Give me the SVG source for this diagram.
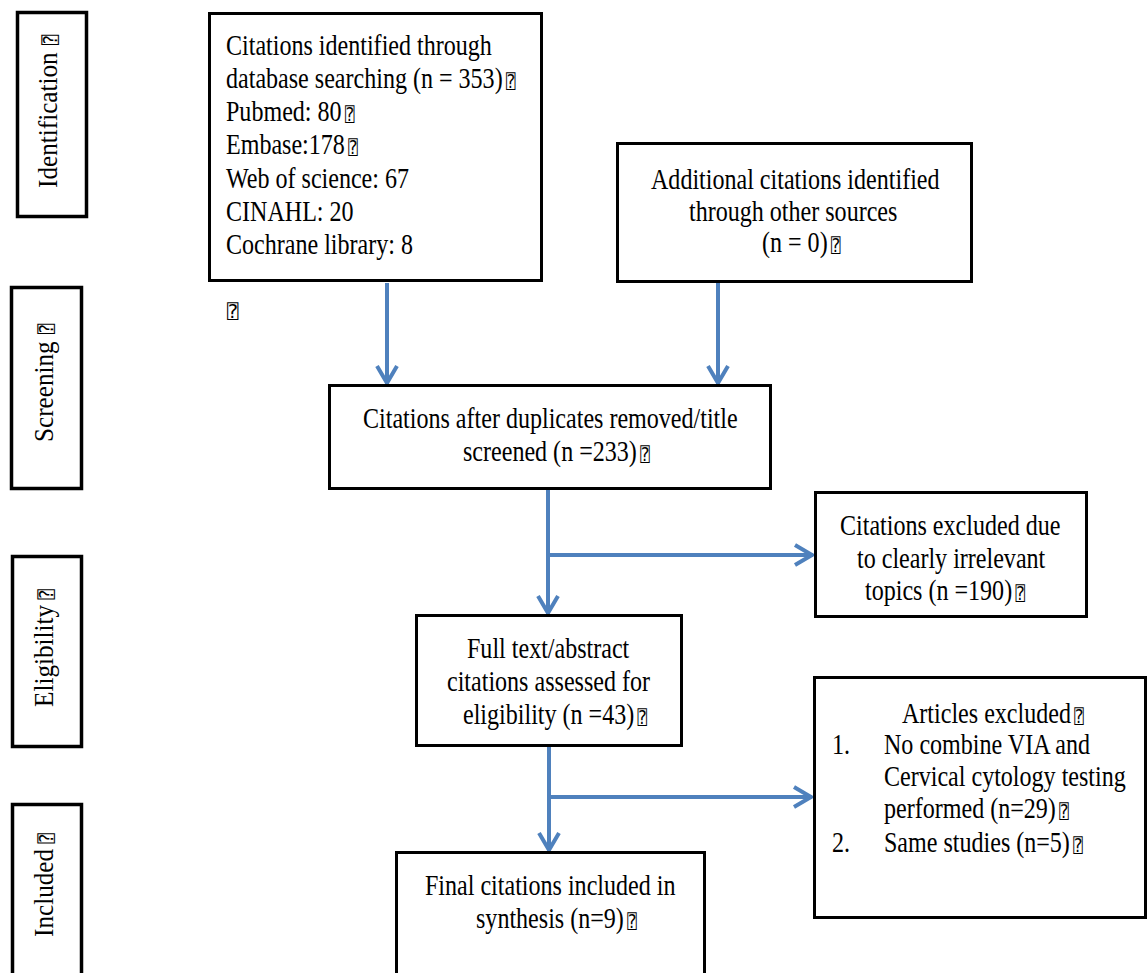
<svg xmlns="http://www.w3.org/2000/svg" width="1148" height="973" viewBox="0 0 1148 973">
<defs>
<style>
.bx { fill: #ffffff; stroke: #000000; stroke-width: 3; }
.st { fill: #ffffff; stroke: #000000; stroke-width: 3.5; }
.t { font-family: "Liberation Serif", "Times New Roman", serif; font-size: 29px; fill: #000000; }
.r { font-family: "Liberation Serif", "Times New Roman", serif; font-size: 28px; fill: #000000; }
.q { font-family: "DejaVu Sans Mono", "DejaVu Sans", monospace; font-size: 19px; }
.ln { fill: none; stroke: #4f81bd; stroke-width: 4; }
</style>
<marker id="ah" markerUnits="userSpaceOnUse" markerWidth="28" markerHeight="28" viewBox="-22 -14 28 28" refX="1" refY="0" orient="auto">
<path d="M-17,-10 L0,0 L-17,10" fill="none" stroke="#4f81bd" stroke-width="4"/>
</marker>
</defs>
<rect x="0" y="0" width="1148" height="973" fill="#ffffff"/>

<g id="stage-identification">
<rect class="st" x="17.5" y="12.5" width="69" height="204"/>
<text class="r" transform="translate(57,188) rotate(-90) scale(0.9,1)">Identification<tspan class="q" dx="8">⍰</tspan></text>
</g>
<g id="stage-screening">
<rect class="st" x="11.5" y="287.5" width="70" height="201"/>
<text class="r" transform="translate(53,442) rotate(-90) scale(0.9,1)">Screening<tspan class="q" dx="8">⍰</tspan></text>
</g>
<g id="stage-eligibility">
<rect class="st" x="12.5" y="556.5" width="69" height="190"/>
<text class="r" transform="translate(53,707) rotate(-90) scale(0.9,1)">Eligibility<tspan class="q" dx="6">⍰</tspan></text>
</g>
<g id="stage-included">
<rect class="st" x="12.5" y="804.5" width="69" height="200"/>
<text class="r" transform="translate(53,937) rotate(-90) scale(0.9,1)">Included<tspan class="q" dx="6">⍰</tspan></text>
</g>

<g id="stray-mark">
<text class="q" x="227" y="318">⍰</text>
</g>

<g id="connectors">
<path class="ln" d="M387,283 L387,384" marker-end="url(#ah)"/>
<path class="ln" d="M718,283 L718,384" marker-end="url(#ah)"/>
<path class="ln" d="M548,490 L548,614" marker-end="url(#ah)"/>
<path class="ln" d="M548,555 L813,555" marker-end="url(#ah)"/>
<path class="ln" d="M549,747 L549,851" marker-end="url(#ah)"/>
<path class="ln" d="M549,797 L812,797" marker-end="url(#ah)"/>
</g>

<g id="node-database">
<rect class="bx" x="209.5" y="13.5" width="332" height="267"/>
<text class="t" transform="translate(226,55) scale(0.83,1)">Citations identified through</text>
<text class="t" transform="translate(226,88) scale(0.83,1)">database searching (n = 353)<tspan class="q" dx="4">⍰</tspan></text>
<text class="t" transform="translate(226,121) scale(0.83,1)">Pubmed: 80<tspan class="q" dx="4">⍰</tspan></text>
<text class="t" transform="translate(226,154) scale(0.83,1)">Embase:178<tspan class="q" dx="4">⍰</tspan></text>
<text class="t" transform="translate(226,188) scale(0.83,1)">Web of science: 67</text>
<text class="t" transform="translate(226,221) scale(0.83,1)">CINAHL: 20</text>
<text class="t" transform="translate(226,254) scale(0.83,1)">Cochrane library: 8</text>
</g>

<g id="node-additional">
<rect class="bx" x="617.5" y="143.5" width="354" height="138"/>
<text class="t" transform="translate(651,189) scale(0.83,1)">Additional citations identified</text>
<text class="t" transform="translate(689,221) scale(0.83,1)">through other sources</text>
<text class="t" transform="translate(762,252) scale(0.83,1)">(n = 0)<tspan class="q" dx="4">⍰</tspan></text>
</g>

<g id="node-screened">
<rect class="bx" x="329.5" y="385.5" width="441" height="103"/>
<text class="t" transform="translate(363,428) scale(0.83,1)">Citations after duplicates removed/title</text>
<text class="t" transform="translate(463,461) scale(0.83,1)">screened (n =233)<tspan class="q" dx="4">⍰</tspan></text>
</g>

<g id="node-excluded-topics">
<rect class="bx" x="815.5" y="492.5" width="271" height="124"/>
<text class="t" transform="translate(840,535) scale(0.83,1)">Citations excluded due</text>
<text class="t" transform="translate(857,568) scale(0.83,1)">to clearly irrelevant</text>
<text class="t" transform="translate(865,600) scale(0.83,1)">topics (n =190)<tspan class="q" dx="4">⍰</tspan></text>
</g>

<g id="node-fulltext">
<rect class="bx" x="416.5" y="615.5" width="265" height="130"/>
<text class="t" transform="translate(467,658) scale(0.83,1)">Full text/abstract</text>
<text class="t" transform="translate(447,691) scale(0.83,1)">citations assessed for</text>
<text class="t" transform="translate(463,724) scale(0.83,1)">eligibility (n =43)<tspan class="q" dx="4">⍰</tspan></text>
</g>

<g id="node-articles-excluded">
<rect class="bx" x="814.5" y="677.5" width="331" height="240"/>
<text class="t" transform="translate(902,723) scale(0.83,1)">Articles excluded<tspan class="q" dx="4">⍰</tspan></text>
<text class="t" transform="translate(832,754) scale(0.83,1)">1.</text>
<text class="t" transform="translate(884,754) scale(0.83,1)">No combine VIA and</text>
<text class="t" transform="translate(884,786) scale(0.83,1)">Cervical cytology testing</text>
<text class="t" transform="translate(884,818) scale(0.83,1)">performed (n=29)<tspan class="q" dx="4">⍰</tspan></text>
<text class="t" transform="translate(832,852) scale(0.83,1)">2.</text>
<text class="t" transform="translate(884,852) scale(0.83,1)">Same studies (n=5)<tspan class="q" dx="4">⍰</tspan></text>
</g>

<g id="node-final">
<rect class="bx" x="396.5" y="852.5" width="308" height="150"/>
<text class="t" transform="translate(425,895) scale(0.83,1)">Final citations included in</text>
<text class="t" transform="translate(476,928) scale(0.83,1)">synthesis (n=9)<tspan class="q" dx="4">⍰</tspan></text>
</g>
</svg>
